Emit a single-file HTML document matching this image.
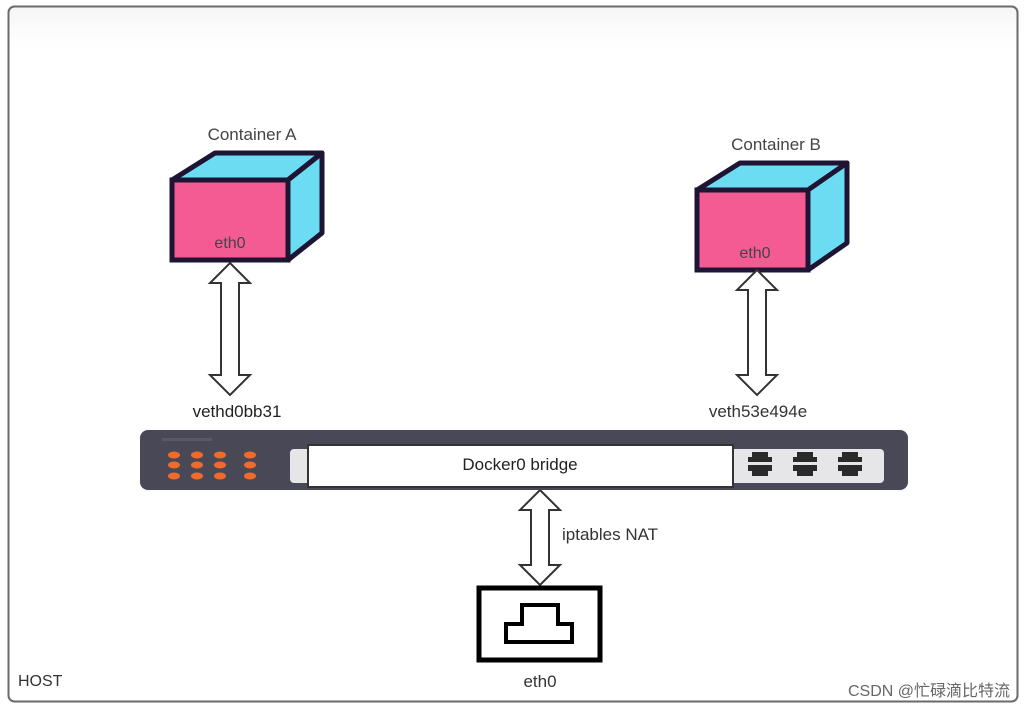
<!DOCTYPE html>
<html><head><meta charset="utf-8"><style>
body{margin:0;background:#fff;}
svg{display:block;font-family:"Liberation Sans","Noto Sans CJK SC",sans-serif;}
</style></head><body>
<svg width="1025" height="708" viewBox="0 0 1025 708" xmlns="http://www.w3.org/2000/svg">
<defs><linearGradient id="g" x1="0" y1="0" x2="0" y2="1"><stop offset="0" stop-color="#f6f6f6"/><stop offset="0.06" stop-color="#fff"/></linearGradient></defs>
<rect x="8.5" y="6.5" width="1009" height="695" rx="6" fill="url(#g)" stroke="#6a6a6a" stroke-width="2"/>
<!-- Cube A -->
<polygon points="172,180 215,153 322,153 288,180" fill="#6bdcf2" stroke="#1e1433" stroke-width="5" stroke-linejoin="round"/>
<polygon points="288,180 322,153 322,233 288,260" fill="#6bdcf2" stroke="#1e1433" stroke-width="5" stroke-linejoin="round"/>
<rect x="172" y="180" width="116" height="80" fill="#f55b93" stroke="#1e1433" stroke-width="5"/>
<text x="230" y="248" font-size="16" fill="#444" text-anchor="middle">eth0</text>
<text x="252" y="140" font-size="17" fill="#444" text-anchor="middle">Container A</text>
<!-- Cube B -->
<polygon points="697,190 740,163 847,163 808,190" fill="#6bdcf2" stroke="#1e1433" stroke-width="5" stroke-linejoin="round"/>
<polygon points="808,190 847,163 847,243 808,270" fill="#6bdcf2" stroke="#1e1433" stroke-width="5" stroke-linejoin="round"/>
<rect x="697" y="190" width="111" height="80" fill="#f55b93" stroke="#1e1433" stroke-width="5"/>
<text x="755" y="258" font-size="16" fill="#444" text-anchor="middle">eth0</text>
<text x="776" y="150" font-size="17" fill="#444" text-anchor="middle">Container B</text>
<!-- arrows -->
<g fill="#fff" stroke="#333" stroke-width="2" stroke-linejoin="miter">
<polygon points="230,263 250,283 239,283 239,375 250,375 230,395 210,375 221,375 221,283 210,283"/>
<polygon points="757,270 777,290 766,290 766,375 777,375 757,395 737,375 748,375 748,290 737,290"/>
<polygon points="540,490 560,510 549,510 549,565 560,565 540,585 520,565 531,565 531,510 520,510"/>
</g>
<text x="237" y="417" font-size="17" fill="#222" text-anchor="middle">vethd0bb31</text>
<text x="758" y="417" font-size="17" fill="#333" text-anchor="middle">veth53e494e</text>
<!-- bridge -->
<rect x="140" y="430" width="768" height="60" rx="8" fill="#484856"/>
<rect x="162" y="438" width="50" height="3" fill="#5a5a66"/>
<g fill="#f06a2a">
<ellipse cx="174" cy="455" rx="6" ry="3.5"/><ellipse cx="197" cy="455" rx="6" ry="3.5"/><ellipse cx="220" cy="455" rx="6" ry="3.5"/><ellipse cx="250" cy="455" rx="6" ry="3.5"/>
<ellipse cx="174" cy="465" rx="6" ry="3.5"/><ellipse cx="197" cy="465" rx="6" ry="3.5"/><ellipse cx="220" cy="465" rx="6" ry="3.5"/><ellipse cx="250" cy="465" rx="6" ry="3.5"/>
<ellipse cx="174" cy="476" rx="6" ry="3.5"/><ellipse cx="197" cy="476" rx="6" ry="3.5"/><ellipse cx="220" cy="476" rx="6" ry="3.5"/><ellipse cx="250" cy="476" rx="6" ry="3.5"/>
</g>
<rect x="290" y="449" width="594" height="34" rx="4" fill="#e6e6e8"/>
<rect x="308" y="445" width="425" height="42" fill="#fff" stroke="#333" stroke-width="2"/>
<text x="520" y="470" font-size="17" fill="#222" text-anchor="middle">Docker0 bridge</text>
<g fill="#2a2a2a">
<path d="M748,462 h24 v-5 h-4 v-5 h-16 v5 h-4z M748,465 h24 v6 h-4 v5 h-16 v-5 h-4z"/>
<path d="M793,462 h24 v-5 h-4 v-5 h-16 v5 h-4z M793,465 h24 v6 h-4 v5 h-16 v-5 h-4z"/>
<path d="M838,462 h24 v-5 h-4 v-5 h-16 v5 h-4z M838,465 h24 v6 h-4 v5 h-16 v-5 h-4z"/>
</g>
<text x="562" y="540" font-size="17" fill="#333">iptables NAT</text>
<!-- eth0 host -->
<rect x="479" y="588" width="121" height="72" fill="#fff" stroke="#000" stroke-width="5"/>
<polygon points="522,605 558,605 558,624 572,624 572,642 506,642 506,624 522,624" fill="#fff" stroke="#000" stroke-width="4"/>
<text x="540" y="687" font-size="17" fill="#333" text-anchor="middle">eth0</text>
<text x="18" y="686" font-size="16" fill="#333">HOST</text>
<text x="1010" y="696" font-size="16" fill="#666" text-anchor="end">CSDN @忙碌滴比特流</text>
</svg>
</body></html>
